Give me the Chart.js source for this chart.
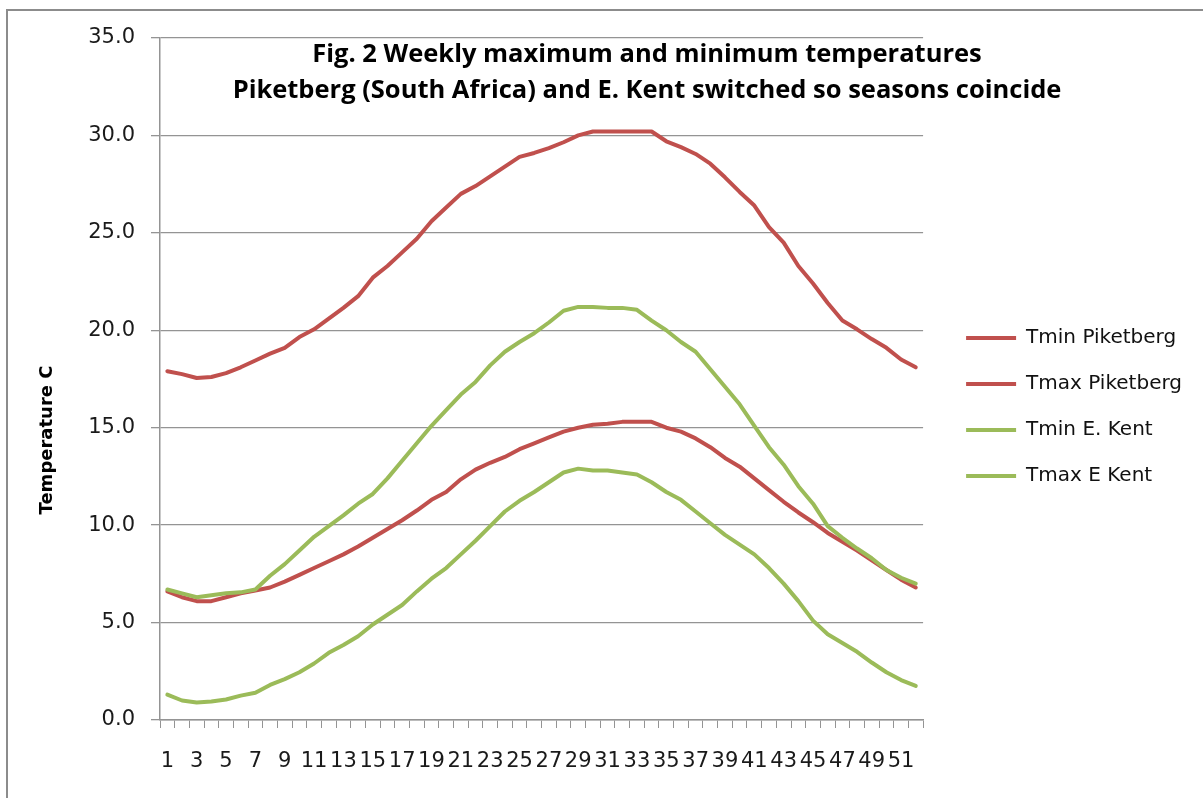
<!DOCTYPE html>
<html>
<head>
<meta charset="utf-8">
<script src="https://cdn.jsdelivr.net/npm/chart.js@4.4.1/dist/chart.umd.min.js"></script>
<style>
  html, body { margin: 0; padding: 0; background: #fff; overflow: hidden; }
  .wrap { position: relative; width: 1203px; height: 798px; }
  .frame { position: absolute; left: 6px; top: 9px; width: 1300px; height: 900px; border: 2px solid #8c8c8c; }
  canvas { position: absolute; left: 0; top: 0; }
</style>
</head>
<body>
<div class="wrap">
  <div class="frame"></div>
  <canvas id="myChart" width="1203" height="798"></canvas>
</div>
<script>
const weeks = [
  "1", "2", "3", "4", "5", "6", "7", "8", "9", "10", "11", "12", "13",
  "14", "15", "16", "17", "18", "19", "20", "21", "22", "23", "24", "25", "26",
  "27", "28", "29", "30", "31", "32", "33", "34", "35", "36", "37", "38", "39",
  "40", "41", "42", "43", "44", "45", "46", "47", "48", "49", "50", "51", "52",
];

const tminPiketberg = [
  6.6, 6.3, 6.1, 6.1, 6.3, 6.5, 6.65, 6.8, 7.1, 7.45, 7.8, 8.15, 8.5,
  8.9, 9.35, 9.8, 10.25, 10.75, 11.3, 11.7, 12.35, 12.85, 13.2, 13.5, 13.9, 14.2,
  14.5, 14.8, 15.0, 15.15, 15.2, 15.3, 15.3, 15.3, 15.0, 14.8, 14.45, 14.0, 13.45,
  13.0, 12.4, 11.8, 11.2, 10.65, 10.15, 9.6, 9.15, 8.7, 8.2, 7.7, 7.2, 6.8,
];

const tmaxPiketberg = [
  17.9, 17.75, 17.55, 17.6, 17.8, 18.1, 18.45, 18.8, 19.1, 19.65, 20.05, 20.6, 21.15,
  21.75, 22.7, 23.3, 24.0, 24.7, 25.6, 26.3, 27.0, 27.4, 27.9, 28.4, 28.9, 29.1,
  29.35, 29.65, 30.0, 30.2, 30.2, 30.2, 30.2, 30.2, 29.7, 29.4, 29.05, 28.55, 27.85,
  27.1, 26.4, 25.3, 24.5, 23.3, 22.4, 21.4, 20.5, 20.05, 19.55, 19.1, 18.5, 18.1,
];

const tminKent = [
  1.3, 1.0, 0.9, 0.95, 1.05, 1.25, 1.4, 1.8, 2.1, 2.45, 2.9, 3.45, 3.85,
  4.3, 4.9, 5.4, 5.9, 6.6, 7.25, 7.8, 8.5, 9.2, 9.95, 10.7, 11.25, 11.7,
  12.2, 12.7, 12.9, 12.8, 12.8, 12.7, 12.6, 12.2, 11.7, 11.3, 10.7, 10.1, 9.5,
  9.0, 8.5, 7.8, 7.0, 6.1, 5.1, 4.4, 3.95, 3.5, 2.95, 2.45, 2.05, 1.75,
];

const tmaxKent = [
  6.7, 6.5, 6.3, 6.4, 6.5, 6.55, 6.7, 7.4, 8.0, 8.7, 9.4, 9.95, 10.5,
  11.1, 11.6, 12.4, 13.3, 14.2, 15.1, 15.9, 16.7, 17.35, 18.2, 18.9, 19.4, 19.85,
  20.4, 21.0, 21.2, 21.2, 21.15, 21.15, 21.05, 20.5, 20.0, 19.4, 18.9, 18.0, 17.1,
  16.2, 15.1, 14.0, 13.1, 12.0, 11.1, 9.95, 9.35, 8.8, 8.3, 7.7, 7.3, 7.0,
];

const titleLines = [
  "Fig. 2 Weekly maximum and minimum temperatures",
  "Piketberg (South Africa) and E. Kent switched so seasons coincide",
];
const yTitle = "Temperature C";

const RED = "#C0504D";
const GREEN = "#9BBB59";
const GRID = "#949494";

function series(label, values, color, order) {
  return {
    label: label,
    data: values,
    borderColor: color,
    backgroundColor: color,
    borderWidth: 4,
    pointRadius: 0,
    pointHoverRadius: 0,
    tension: 0,
    borderCapStyle: "round",
    borderJoinStyle: "round",
    order: order,
  };
}

// titles are drawn inside the plot, like the spreadsheet chart
const textPlugin = {
  id: "texts",
  afterDraw(chart) {
    const ctx = chart.ctx;
    ctx.save();
    ctx.fillStyle = "#000";
    ctx.textAlign = "center";
    ctx.textBaseline = "alphabetic";
    ctx.font = "bold 25.5px 'Open Sans'";
    ctx.fillText(titleLines[0], 647, 62);
    ctx.fillText(titleLines[1], 647, 98);

    ctx.translate(47, 440);
    ctx.rotate(-Math.PI / 2);
    ctx.textBaseline = "middle";
    ctx.font = "bold 18px 'DejaVu Sans'";
    ctx.fillText(yTitle, 0, 0);
    ctx.restore();
  },
};

const data = {
  labels: weeks,
  datasets: [
    series("Tmin Piketberg", tminPiketberg, RED, 1),
    series("Tmax Piketberg", tmaxPiketberg, RED, 1),
    series("Tmin E. Kent", tminKent, GREEN, 0),
    series("Tmax E Kent", tmaxKent, GREEN, 0),
  ],
};

const config = {
  type: "line",
  data: data,
  plugins: [textPlugin],
  options: {
    responsive: false,
    animation: false,
    devicePixelRatio: 1,
    layout: {
      padding: { top: 16, left: 0, right: 11, bottom: 0 },
    },
    plugins: {
      title: { display: false },
      tooltip: { enabled: false },
      legend: {
        display: true,
        position: "right",
        maxWidth: 320,
        labels: {
          usePointStyle: true,
          pointStyle: "line",
          pointStyleWidth: 50,
          boxHeight: 20,
          padding: 26,
          color: "#111",
          font: { family: "'DejaVu Sans'", size: 20 },
          sort: (a, b) => a.datasetIndex - b.datasetIndex,
        },
      },
    },
    scales: {
      x: {
        type: "category",
        position: "bottom",
        offset: true,
        grid: {
          display: true,
          offset: true,
          drawOnChartArea: false,
          drawTicks: true,
          tickLength: 8,
          color: GRID,
        },
        border: { display: true, color: GRID, width: 1.5 },
        ticks: {
          autoSkip: false,
          maxRotation: 0,
          minRotation: 0,
          padding: 21,
          color: "#1a1a1a",
          font: { family: "'DejaVu Sans'", size: 21 },
          callback: (value, index) => (index % 2 === 0 ? weeks[index] : ""),
        },
        afterFit: (scale) => {
          scale.height = 78;
        },
      },
      xTop: {
        type: "category",
        position: "top",
        display: true,
        grid: { display: false },
        border: { display: false },
        ticks: { display: false },
        afterFit: (scale) => {
          scale.height = 22;
        },
      },
      y: {
        position: "left",
        min: 0,
        max: 35,
        grid: {
          display: true,
          drawTicks: true,
          tickLength: 9,
          color: GRID,
          lineWidth: 1.3,
        },
        border: { display: true, color: GRID, width: 1.5 },
        ticks: {
          stepSize: 5,
          padding: 16,
          color: "#1a1a1a",
          font: { family: "'DejaVu Sans'", size: 21 },
          callback: (value) => value.toFixed(1),
        },
        afterFit: (scale) => {
          scale.width = 160;
        },
      },
      yRight: {
        position: "right",
        display: true,
        grid: { display: false },
        border: { display: false },
        ticks: { display: false },
        afterFit: (scale) => {
          scale.width = 17;
        },
      },
    },
  },
};

new Chart(document.getElementById("myChart"), config);
</script>
</body>
</html>
